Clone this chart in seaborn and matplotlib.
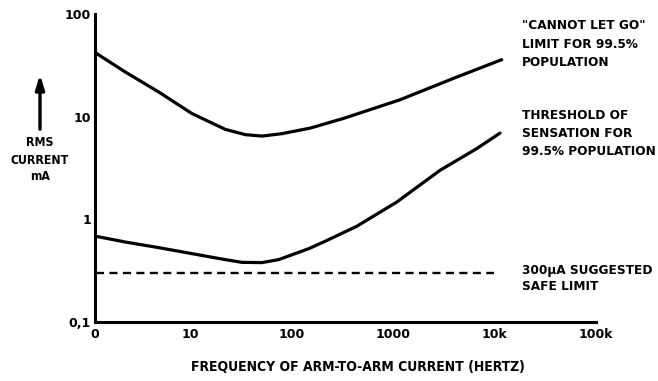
import matplotlib
matplotlib.use("Agg")
import matplotlib.pyplot as plt
import numpy as np
import pandas as pd
import seaborn as sns

# Frequency (Hz) and RMS current (mA) for each curve
freq_letgo = [1.19, 2.31, 4.92, 10.5, 22.3, 35.1, 51.2, 80.6, 153, 324, 1172, 4245, 11770]
current_letgo = [41.5, 27.2, 17.4, 10.7, 7.52, 6.68, 6.47, 6.83, 7.74, 9.6, 14.6, 24.3, 35.9]

freq_sense = [1.19, 2.31, 4.92, 10.5, 22.3, 32.5, 51.2, 74.7, 148, 206, 439, 1086, 2904, 6670, 11330]
current_sense = [0.683, 0.601, 0.530, 0.463, 0.405, 0.381, 0.379, 0.405, 0.518, 0.60,
                 0.855, 1.47, 3.0, 4.88, 6.92]

freq_safe = [1.19, 10000]
current_safe = [0.3, 0.3]

x_ticks = [1.16, 10, 100, 1000, 10000, 100000]
x_tick_labels = ["0", "10", "100", "1000", "10k", "100k"]
y_ticks = [0.1, 1, 10, 100]
y_tick_labels = ["0,1", "1", "10", "100"]

letgo_text = '"CANNOT LET GO"\nLIMIT FOR 99.5%\nPOPULATION'
sense_text = "THRESHOLD OF\nSENSATION FOR\n99.5% POPULATION"
safe_text = "300\u00b5A SUGGESTED\nSAFE LIMIT"
x_label = "FREQUENCY OF ARM-TO-ARM CURRENT (HERTZ)"
y_label = "RMS\nCURRENT\nmA"

sns.set_theme(style="white")
plt.rcParams["font.family"] = ["DejaVu Sans"]
plt.rcParams["font.weight"] = "bold"

df_letgo = pd.DataFrame({"freq": freq_letgo, "current": current_letgo})
df_sense = pd.DataFrame({"freq": freq_sense, "current": current_sense})
df_safe = pd.DataFrame({"freq": freq_safe, "current": current_safe})

W, H = 658, 381
fig = plt.figure(figsize=(W / 100, H / 100), dpi=100)
ax = fig.add_axes([95 / W, 1 - 322 / H, (596 - 95) / W, (322 - 14) / H])

ink = "black"
sns.lineplot(data=df_letgo, x="freq", y="current", ax=ax, color=ink, lw=2.3)
sns.lineplot(data=df_sense, x="freq", y="current", ax=ax, color=ink, lw=2.3)
sns.lineplot(data=df_safe, x="freq", y="current", ax=ax, color=ink, lw=1.7,
             dashes=False, linestyle=(0, (3.4, 2.3)))

ax.set_xscale("log")
ax.set_yscale("log")
ax.set_xlim(1.16, 100000)
ax.set_ylim(0.1, 100)
ax.set_xticks(x_ticks)
ax.set_xticklabels(x_tick_labels)
ax.set_yticks(y_ticks)
ax.set_yticklabels(y_tick_labels)
ax.xaxis.set_minor_locator(matplotlib.ticker.NullLocator())
ax.yaxis.set_minor_locator(matplotlib.ticker.NullLocator())
ax.tick_params(axis="both", direction="in", length=8, width=2, color=ink,
               labelsize=9, pad=3, labelcolor=ink)
ax.tick_params(axis="x", pad=4)
for lbl in ax.get_xticklabels() + ax.get_yticklabels():
    lbl.set_fontweight("bold")

for side in ("top", "right"):
    ax.spines[side].set_visible(False)
for side in ("left", "bottom"):
    ax.spines[side].set_color(ink)
    ax.spines[side].set_linewidth(2.2)
ax.set_xlabel("")
ax.set_ylabel("")

txt_kw = dict(fontsize=9.7, fontweight="bold", fontstretch="condensed",
              color=ink, va="top", ha="left")
fig.text(522 / W, 1 - 19 / H, letgo_text, linespacing=1.55, **txt_kw)
fig.text(522 / W, 1 - 109 / H, sense_text, linespacing=1.5, **txt_kw)
fig.text(522 / W, 1 - 264 / H, safe_text, linespacing=1.3, **txt_kw)

fig.text(358 / W, 1 - 367 / H, x_label, fontsize=10, fontweight="bold",
         fontstretch="condensed", color=ink, ha="center", va="center")
fig.text(40 / W, 1 - 160 / H, y_label, fontsize=8.8, fontweight="bold",
         fontstretch="condensed", color=ink, ha="center", va="center",
         linespacing=1.4)
ax.annotate("", xy=(40, H - 72), xytext=(40, H - 132),
            xycoords="figure pixels", textcoords="figure pixels",
            arrowprops=dict(arrowstyle="-|>,head_width=0.22,head_length=0.7",
                            color=ink, lw=2.4))

fig.savefig("out.png", dpi=100, facecolor="white")
